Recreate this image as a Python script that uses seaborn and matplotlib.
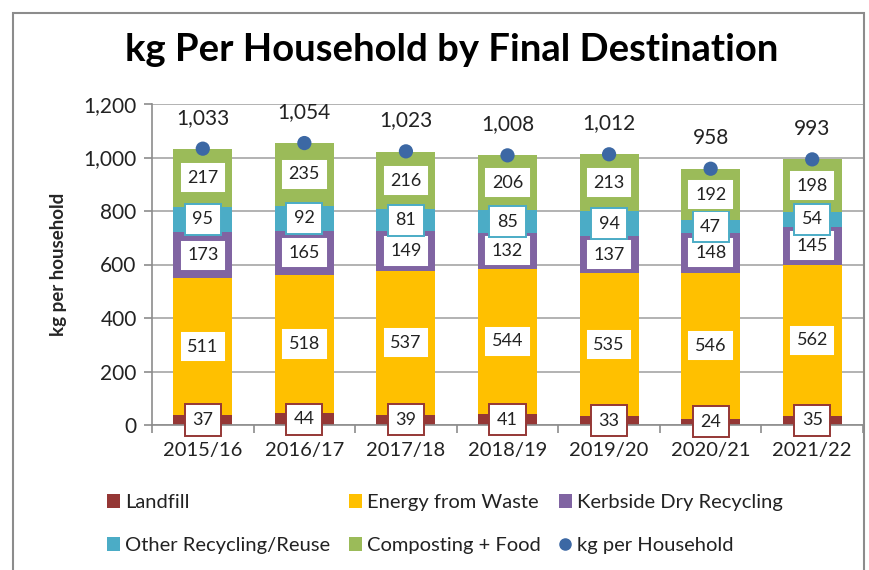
import pandas as pd
import seaborn as sns
import matplotlib.pyplot as plt
from matplotlib.patches import Rectangle
from matplotlib.lines import Line2D

# Data
years = ["2015/16", "2016/17", "2017/18", "2018/19", "2019/20", "2020/21", "2021/22"]
landfill = [37, 44, 39, 41, 33, 24, 35]
energy_from_waste = [511, 518, 537, 544, 535, 546, 562]
kerbside = [173, 165, 149, 132, 137, 148, 145]
other_recycling = [95, 92, 81, 85, 94, 47, 54]
composting = [217, 235, 216, 206, 213, 192, 198]
kg_per_household = [1033, 1054, 1023, 1008, 1012, 958, 993]

series_names = ["Landfill", "Energy from Waste", "Kerbside Dry Recycling",
                "Other Recycling/Reuse", "Composting + Food"]
series_vals = [landfill, energy_from_waste, kerbside, other_recycling, composting]
colors = ["#953735", "#FFC000", "#8064A2", "#4BACC6", "#9BBB59"]
dot_color = "#3C68A4"

sns.set_theme(style="white")
plt.rcParams["font.family"] = ["Lato", "DejaVu Sans"]

df = pd.DataFrame({"year": years})
for name, vals in zip(series_names, series_vals):
    df[name] = vals
cum = df[series_names].cumsum(axis=1)

fig = plt.figure(figsize=(8.7, 5.7), dpi=100)
ax = fig.add_axes([152 / 870, 1 - 425 / 570, (863 - 152) / 870, (425 - 104) / 570])

# stacked bars: draw cumulative heights from top layer down
for name, col in reversed(list(zip(series_names, colors))):
    sns.barplot(x=df["year"], y=cum[name], color=col, width=0.58,
                saturation=1, ax=ax, edgecolor="none")

# value labels, centred in each segment
for i in range(len(years)):
    bottom = 0
    for name, col in zip(series_names, colors):
        v = df.loc[i, name]
        ax.text(i, bottom + v / 2, f"{v}", ha="center", va="center", fontsize=13,
                color="#222222", clip_on=False, zorder=6,
                bbox=dict(boxstyle="square,pad=0.42", fc="white", ec=col, lw=1.4))
        bottom += v

sns.scatterplot(x=list(range(len(years))), y=kg_per_household, color=dot_color,
                s=105, edgecolor="none", ax=ax, zorder=5)
for i, t in enumerate(kg_per_household):
    ax.annotate(f"{t:,}", (i, t), xytext=(0, 15), textcoords="offset points",
                ha="center", va="bottom", fontsize=15, color="#222222")

ax.set_ylim(0, 1200)
ax.set_xlim(-0.5, len(years) - 0.5)
ax.set_yticks(range(0, 1201, 200))
ax.set_yticklabels([f"{v:,}" for v in range(0, 1201, 200)])
ax.set_xticks(range(len(years)))
ax.set_xticks([i - 0.5 for i in range(len(years) + 1)], minor=True)
ax.yaxis.grid(True, color="#A6A6A6", lw=1.2)
ax.set_axisbelow(True)
for s in ["top", "right"]:
    ax.spines[s].set_visible(False)
for s in ["left", "bottom"]:
    ax.spines[s].set_color("#8C8C8C")
    ax.spines[s].set_linewidth(1.2)
ax.tick_params(axis="y", which="major", length=6, color="#8C8C8C", width=1.2,
               labelsize=15, labelcolor="#222222", left=True, pad=5)
ax.tick_params(axis="x", which="major", length=0, labelsize=14.5,
               labelcolor="#222222", pad=12)
ax.tick_params(axis="x", which="minor", length=6, color="#8C8C8C", width=1.2,
               bottom=True)
ax.set_xlabel("")
ax.set_ylabel("kg per household", fontsize=13.5, fontweight="bold", labelpad=12)

fig.text(452 / 870, 1 - 50 / 570, "kg Per Household by Final Destination",
         ha="center", va="center", fontsize=27.5, fontweight="bold", color="black")

# legend
handles = [Rectangle((0, 0), 1, 1, fc=c, ec="none") for c in colors]
handles.append(Line2D([], [], marker="o", ls="none", color=dot_color, markersize=8))
labels = series_names + ["kg per Household"]
order = [0, 3, 1, 4, 2, 5]
fig.legend([handles[k] for k in order], [labels[k] for k in order],
           loc="center", bbox_to_anchor=(445 / 870, 1 - 524 / 570), ncol=3,
           frameon=False, fontsize=14.5, handlelength=0.65, handleheight=0.65,
           handletextpad=0.25, columnspacing=0.9, labelspacing=1.3,
           labelcolor="#222222")

# chart border
fig.patches.append(Rectangle((13 / 870, -0.02), (864 - 13) / 870, 1 - 13 / 570 + 0.02,
                             transform=fig.transFigure, fill=False,
                             ec="#8C8C8C", lw=1.5))

fig.savefig("out.png", dpi=100)
